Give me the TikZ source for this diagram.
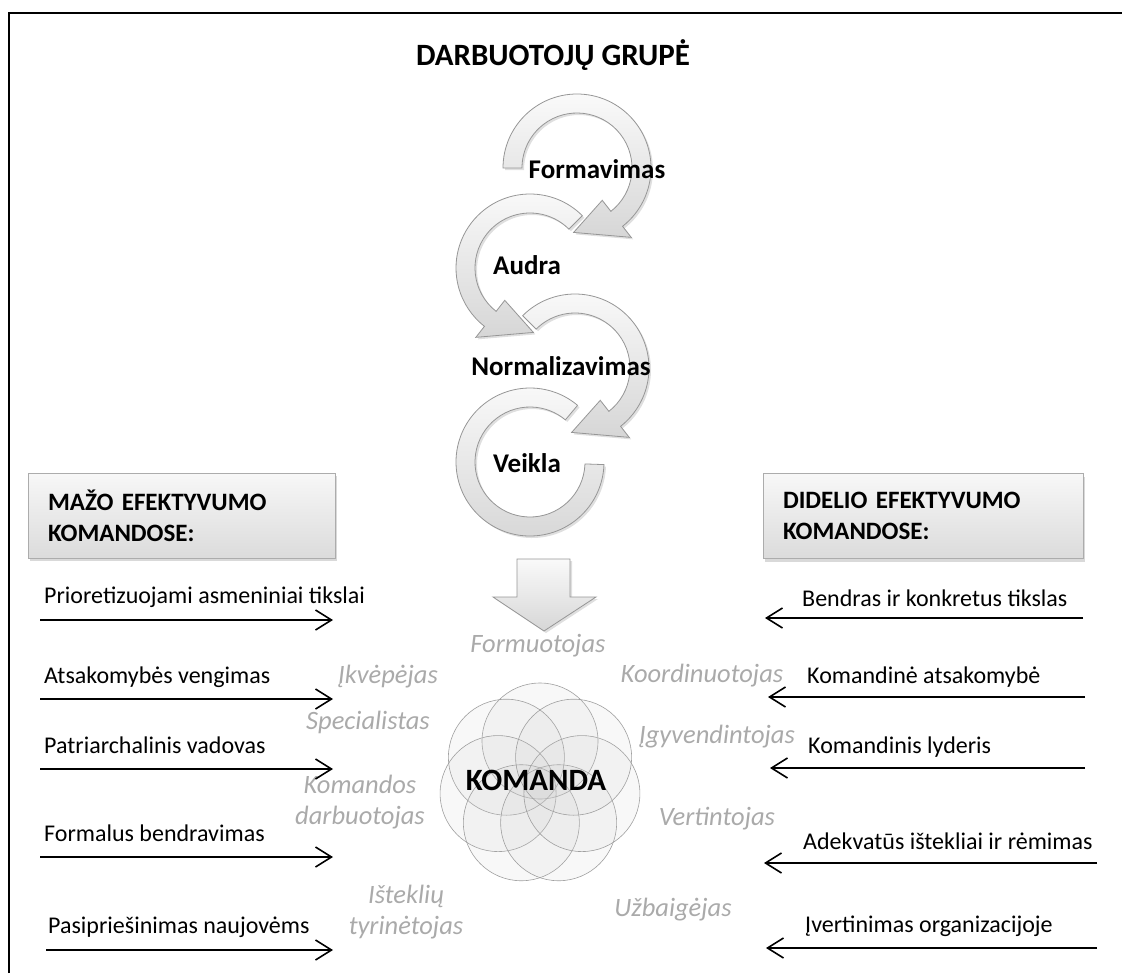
\documentclass[tikz,border=0pt]{standalone}
\usepackage{fontspec}
\setmainfont{Carlito}
\usetikzlibrary{arrows.meta,shadows}
\definecolor{rolegray}{RGB}{170,170,170}
\definecolor{arcline}{RGB}{150,150,150}
\tikzset{
  txt/.style={font=\fontsize{24}{28}\selectfont, inner sep=0pt, anchor=base west},
  role/.style={font=\fontsize{26.5}{31}\selectfont\itshape, text=rolegray, inner sep=0pt, align=center},
  stage/.style={font=\fontsize{27}{30}\selectfont\bfseries, inner sep=0pt},
  ring/.style={top color=gray!4, bottom color=gray!32, draw=arcline, line width=0.8pt,
    drop shadow={shadow xshift=2pt, shadow yshift=-2pt, opacity=0.25}},
  petal/.style={draw=gray!75, line width=0.6pt, fill=gray!45, fill opacity=0.12},
  infobox/.style={draw=gray!65, line width=0.8pt, top color=gray!6, bottom color=gray!28,
    drop shadow={shadow xshift=2pt, shadow yshift=-3pt, opacity=0.3},
    minimum height=85pt, inner xsep=20pt, inner ysep=0pt, align=left,
    font=\fontsize{25}{31}\selectfont\bfseries},
  harrow/.style={-{Straight Barb[length=16pt,width=20pt]}, line width=1.6pt},
}
\begin{document}
\begin{tikzpicture}[x=1pt,y=1pt]
\useasboundingbox (0,0) rectangle (1122,-975);
% frame
\draw[line width=2pt] (9,-973) -- (9,-13) -- (1122,-13);

% title
\node[font=\fontsize{31}{34}\selectfont\bfseries, inner sep=0pt, anchor=base] (title) at (553,-65) {DARBUOTOJŲ GRUPĖ};

% circular arrows (drawn bottom first)
\begin{scope}[shift={(530,-462)}]
\path[ring] (50:74) arc[start angle=50,end angle=358,radius=74] -- (358:55) arc[start angle=358,end angle=50,radius=55] -- cycle;
\end{scope}
\begin{scope}[shift={(575,-368)}]
\path[ring] (135:74) arc[start angle=135,end angle=-52,radius=74] -- (-52:88) -- (-93:64.5) -- (-52:41) -- (-52:55) arc[start angle=-52,end angle=135,radius=55] -- cycle;
\end{scope}
\begin{scope}[shift={(530,-268)}]
\path[ring] (45:74) arc[start angle=45,end angle=232,radius=74] -- (232:88) -- (273:64.5) -- (232:41) -- (232:55) arc[start angle=232,end angle=45,radius=55] -- cycle;
\end{scope}
\begin{scope}[shift={(577,-168)}]
\path[ring] (180:74) arc[start angle=180,end angle=-52,radius=74] -- (-52:88) -- (-93:64.5) -- (-52:41) -- (-52:55) arc[start angle=-52,end angle=180,radius=55] -- cycle;
\end{scope}

\node[stage] (s1) at (597,-169) {Formavimas};
\node[stage] (s2) at (527,-265) {Audra};
\node[stage] (s3) at (561,-366) {Normalizavimas};
\node[stage] (s4) at (527,-463) {Veikla};

% down block arrow
\path[ring] (517,-559) -- (570,-559) -- (570,-597) -- (596,-597) -- (544,-631) -- (493,-597) -- (517,-597) -- cycle;

% boxes
\node[infobox, minimum width=307pt, text width=267pt] (lbox) at (181.5,-515.5) {MAŽO EFEKTYVUMO\\KOMANDOSE:};
\node[infobox, minimum width=320pt, text width=280pt] (rbox) at (923,-516) {DIDELIO EFEKTYVUMO\\KOMANDOSE:};

% flower
\begin{scope}[shift={(540,-784)}]
\foreach \a in {90,141.43,192.86,244.29,295.71,347.14,38.57}
  \path[petal] (\a:43) circle[radius=58];
\end{scope}
\node[font=\fontsize{31}{34}\selectfont\bfseries, inner sep=0pt] (komanda) at (536,-780) {KOMANDA};

% role labels
\node[role] (form) at (538,-646) {Formuotojas};
\node[role] (ikv) at (388,-677) {Įkvėpėjas};
\node[role] (spec) at (368,-722) {Specialistas};
\node[role] (komd) at (360,-802) {Komandos\\darbuotojas};
\node[role] (ist) at (406,-912) {Išteklių\\tyrinėtojas};
\node[role] (koord) at (702,-676) {Koordinuotojas};
\node[role] (igyv) at (717,-737) {Įgyvendintojas};
\node[role] (vert) at (717,-819) {Vertintojas};
\node[role] (uzb) at (673,-910) {Užbaigėjas};

% left side texts
\node[txt] (l1) at (44,-603) {Prioretizuojami asmeniniai tikslai};
\node[txt] (l2) at (44,-683) {Atsakomybės vengimas};
\node[txt] (l3) at (44,-753) {Patriarchalinis vadovas};
\node[txt] (l4) at (44,-841) {Formalus bendravimas};
\node[txt] (l5) at (48,-933) {Pasipriešinimas naujovėms};

\coordinate (la1) at (40,-620);  \coordinate (lb1) at (333,-620);
\coordinate (la2) at (40,-699);  \coordinate (lb2) at (333,-699);
\coordinate (la3) at (40,-769);  \coordinate (lb3) at (333,-769);
\coordinate (la4) at (40,-857);  \coordinate (lb4) at (333,-857);
\coordinate (la5) at (46,-950);  \coordinate (lb5) at (333,-950);
\foreach \i in {1,...,5} \draw[harrow] (la\i) -- (lb\i);

% right side texts
\node[txt] (r1) at (802,-606) {Bendras ir konkretus tikslas};
\node[txt] (r2) at (807,-683) {Komandinė atsakomybė};
\node[txt] (r3) at (808,-753) {Komandinis lyderis};
\node[txt] (r4) at (803,-849) {Adekvatūs ištekliai ir rėmimas};
\node[txt] (r5) at (805,-932) {Įvertinimas organizacijoje};

\coordinate (ra1) at (1083,-618); \coordinate (rb1) at (765,-618);
\coordinate (ra2) at (1085,-697); \coordinate (rb2) at (768,-697);
\coordinate (ra3) at (1085,-768); \coordinate (rb3) at (770,-768);
\coordinate (ra4) at (1097,-863); \coordinate (rb4) at (764,-863);
\coordinate (ra5) at (1097,-948); \coordinate (rb5) at (766,-948);
\foreach \i in {1,...,5} \draw[harrow] (ra\i) -- (rb\i);
\end{tikzpicture}
\end{document}
